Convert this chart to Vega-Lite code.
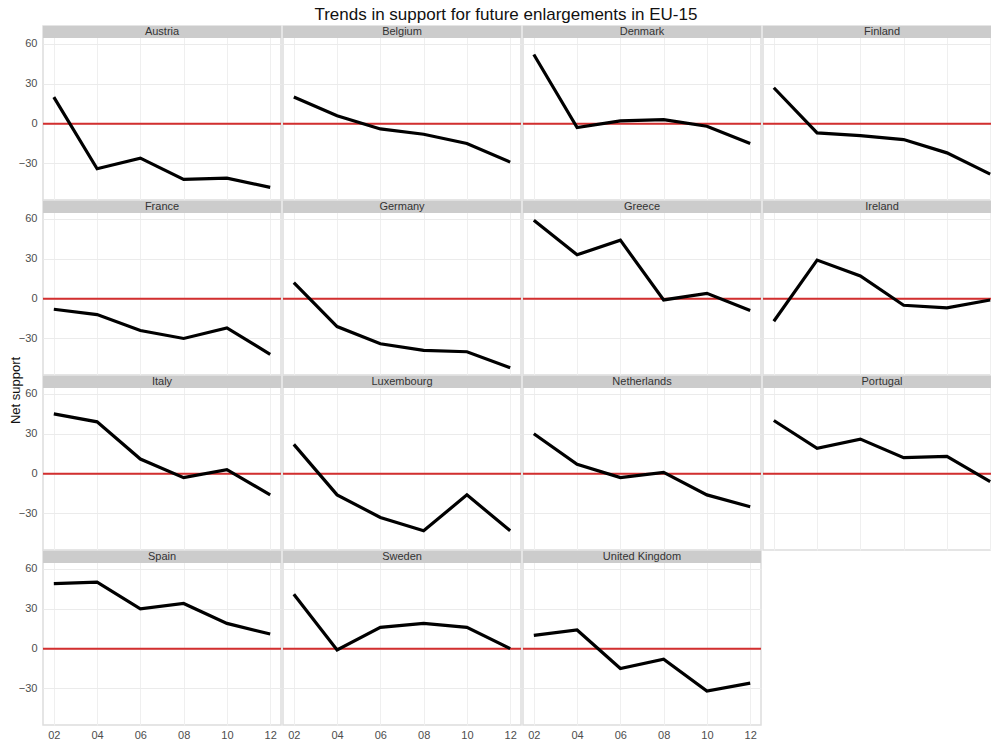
{
  "$schema": "https://vega.github.io/schema/vega-lite/v6.json",
  "padding": {"left": 9, "top": 6, "right": 0, "bottom": 0},
  "background": "white",
  "title": {"text": "Trends in support for future enlargements in EU-15", "fontSize": 17, "font": "Liberation Sans", "fontWeight": "normal", "color": "#111111", "offset": 1, "anchor": "middle"},
  "datasets": {"d": [
    {"country": "Austria", "year": 2002, "support": 20},
    {"country": "Austria", "year": 2004, "support": -34},
    {"country": "Austria", "year": 2006, "support": -26},
    {"country": "Austria", "year": 2008, "support": -42},
    {"country": "Austria", "year": 2010, "support": -41},
    {"country": "Austria", "year": 2012, "support": -48},
    {"country": "Belgium", "year": 2002, "support": 20},
    {"country": "Belgium", "year": 2004, "support": 6},
    {"country": "Belgium", "year": 2006, "support": -4},
    {"country": "Belgium", "year": 2008, "support": -8},
    {"country": "Belgium", "year": 2010, "support": -15},
    {"country": "Belgium", "year": 2012, "support": -29},
    {"country": "Denmark", "year": 2002, "support": 52},
    {"country": "Denmark", "year": 2004, "support": -3},
    {"country": "Denmark", "year": 2006, "support": 2},
    {"country": "Denmark", "year": 2008, "support": 3},
    {"country": "Denmark", "year": 2010, "support": -2},
    {"country": "Denmark", "year": 2012, "support": -15},
    {"country": "Finland", "year": 2002, "support": 27},
    {"country": "Finland", "year": 2004, "support": -7},
    {"country": "Finland", "year": 2006, "support": -9},
    {"country": "Finland", "year": 2008, "support": -12},
    {"country": "Finland", "year": 2010, "support": -22},
    {"country": "Finland", "year": 2012, "support": -38},
    {"country": "France", "year": 2002, "support": -8},
    {"country": "France", "year": 2004, "support": -12},
    {"country": "France", "year": 2006, "support": -24},
    {"country": "France", "year": 2008, "support": -30},
    {"country": "France", "year": 2010, "support": -22},
    {"country": "France", "year": 2012, "support": -42},
    {"country": "Germany", "year": 2002, "support": 12},
    {"country": "Germany", "year": 2004, "support": -21},
    {"country": "Germany", "year": 2006, "support": -34},
    {"country": "Germany", "year": 2008, "support": -39},
    {"country": "Germany", "year": 2010, "support": -40},
    {"country": "Germany", "year": 2012, "support": -52},
    {"country": "Greece", "year": 2002, "support": 59},
    {"country": "Greece", "year": 2004, "support": 33},
    {"country": "Greece", "year": 2006, "support": 44},
    {"country": "Greece", "year": 2008, "support": -1},
    {"country": "Greece", "year": 2010, "support": 4},
    {"country": "Greece", "year": 2012, "support": -9},
    {"country": "Ireland", "year": 2002, "support": -17},
    {"country": "Ireland", "year": 2004, "support": 29},
    {"country": "Ireland", "year": 2006, "support": 17},
    {"country": "Ireland", "year": 2008, "support": -5},
    {"country": "Ireland", "year": 2010, "support": -7},
    {"country": "Ireland", "year": 2012, "support": -1},
    {"country": "Italy", "year": 2002, "support": 45},
    {"country": "Italy", "year": 2004, "support": 39},
    {"country": "Italy", "year": 2006, "support": 11},
    {"country": "Italy", "year": 2008, "support": -3},
    {"country": "Italy", "year": 2010, "support": 3},
    {"country": "Italy", "year": 2012, "support": -16},
    {"country": "Luxembourg", "year": 2002, "support": 22},
    {"country": "Luxembourg", "year": 2004, "support": -16},
    {"country": "Luxembourg", "year": 2006, "support": -33},
    {"country": "Luxembourg", "year": 2008, "support": -43},
    {"country": "Luxembourg", "year": 2010, "support": -16},
    {"country": "Luxembourg", "year": 2012, "support": -43},
    {"country": "Netherlands", "year": 2002, "support": 30},
    {"country": "Netherlands", "year": 2004, "support": 7},
    {"country": "Netherlands", "year": 2006, "support": -3},
    {"country": "Netherlands", "year": 2008, "support": 1},
    {"country": "Netherlands", "year": 2010, "support": -16},
    {"country": "Netherlands", "year": 2012, "support": -25},
    {"country": "Portugal", "year": 2002, "support": 40},
    {"country": "Portugal", "year": 2004, "support": 19},
    {"country": "Portugal", "year": 2006, "support": 26},
    {"country": "Portugal", "year": 2008, "support": 12},
    {"country": "Portugal", "year": 2010, "support": 13},
    {"country": "Portugal", "year": 2012, "support": -6},
    {"country": "Spain", "year": 2002, "support": 49},
    {"country": "Spain", "year": 2004, "support": 50},
    {"country": "Spain", "year": 2006, "support": 30},
    {"country": "Spain", "year": 2008, "support": 34},
    {"country": "Spain", "year": 2010, "support": 19},
    {"country": "Spain", "year": 2012, "support": 11},
    {"country": "Sweden", "year": 2002, "support": 41},
    {"country": "Sweden", "year": 2004, "support": -1},
    {"country": "Sweden", "year": 2006, "support": 16},
    {"country": "Sweden", "year": 2008, "support": 19},
    {"country": "Sweden", "year": 2010, "support": 16},
    {"country": "Sweden", "year": 2012, "support": 0},
    {"country": "United Kingdom", "year": 2002, "support": 10},
    {"country": "United Kingdom", "year": 2004, "support": 14},
    {"country": "United Kingdom", "year": 2006, "support": -15},
    {"country": "United Kingdom", "year": 2008, "support": -8},
    {"country": "United Kingdom", "year": 2010, "support": -32},
    {"country": "United Kingdom", "year": 2012, "support": -26}
  ]},
  "spacing": -8,
  "hconcat": [
    {
      "width": 1,
      "height": 699,
      "view": {"stroke": null},
      "data": {"values": [{"v": 0}]},
      "mark": {"type": "point", "opacity": 0},
      "encoding": {
        "y": {"field": "v", "type": "quantitative",
          "axis": {"title": "Net support", "titleY": 364, "labels": false, "ticks": false, "domain": false, "grid": false,
            "titleFont": "Liberation Sans", "titleFontSize": 13, "titleFontWeight": "normal", "titleColor": "#111111", "titlePadding": 0}}
      }
    },
    {
      "spacing": -1,
      "vconcat": [
        {
          "data": {"name": "d"},
          "transform": [{"filter": {"field": "country", "oneOf": ["Austria", "Belgium", "Denmark", "Finland"]}}],
          "facet": {"column": {"field": "country", "type": "nominal", "title": null, "header": {"labels": false, "title": null}}},
          "spacing": -4,
          "spec": {
            "width": 238, "height": 174,
            "layer": [
              {"transform": [{"filter": "datum.year == 2002"}], "mark": {"type": "rect", "color": "#cccccc"},
               "encoding": {"x": {"datum": 2001.5, "type": "quantitative"}, "x2": {"datum": 2012.5}, "y": {"datum": 64.5, "type": "quantitative"}, "y2": {"datum": 73.5}}},
              {"transform": [{"filter": "datum.year == 2002"}], "mark": {"type": "text", "font": "Liberation Sans", "fontSize": 11, "color": "#333333", "baseline": "middle"},
               "encoding": {"x": {"datum": 2007, "type": "quantitative"}, "y": {"datum": 69, "type": "quantitative"}, "text": {"field": "country"}}},
              {"transform": [{"filter": "datum.year == 2002"}], "mark": {"type": "rule", "color": "#d32f2f", "strokeWidth": 2},
               "encoding": {"y": {"datum": 0, "type": "quantitative"}}},
              {"mark": {"type": "line", "color": "black", "strokeWidth": 3.2},
               "encoding": {
                 "x": {"field": "year", "type": "quantitative", "scale": {"domain": [2001.5, 2012.5], "nice": false, "zero": false},
                   "axis": {"title": null, "values": [2002, 2003, 2004, 2005, 2006, 2007, 2008, 2009, 2010, 2011, 2012], "labels": false, "ticks": false, "domain": false, "grid": true, "gridColor": "#efefef"}},
                 "y": {"field": "support", "type": "quantitative", "scale": {"domain": [-57.5, 73.5], "nice": false, "zero": false},
                   "axis": {"title": null, "values": [-30, 0, 30, 60], "labelOverlap": false, "ticks": false, "domain": false, "grid": true, "gridColor": "#ebebeb", "labelFont": "Liberation Sans", "labelFontSize": 11, "labelColor": "#4d4d4d", "labelPadding": 4}}
               }}
            ]
          }
        },
        {
          "data": {"name": "d"},
          "transform": [{"filter": {"field": "country", "oneOf": ["France", "Germany", "Greece", "Ireland"]}}],
          "facet": {"column": {"field": "country", "type": "nominal", "title": null, "header": {"labels": false, "title": null}}},
          "spacing": -4,
          "spec": {
            "width": 238, "height": 174,
            "layer": [
              {"transform": [{"filter": "datum.year == 2002"}], "mark": {"type": "rect", "color": "#cccccc"},
               "encoding": {"x": {"datum": 2001.5, "type": "quantitative"}, "x2": {"datum": 2012.5}, "y": {"datum": 64.5, "type": "quantitative"}, "y2": {"datum": 73.5}}},
              {"transform": [{"filter": "datum.year == 2002"}], "mark": {"type": "text", "font": "Liberation Sans", "fontSize": 11, "color": "#333333", "baseline": "middle"},
               "encoding": {"x": {"datum": 2007, "type": "quantitative"}, "y": {"datum": 69, "type": "quantitative"}, "text": {"field": "country"}}},
              {"transform": [{"filter": "datum.year == 2002"}], "mark": {"type": "rule", "color": "#d32f2f", "strokeWidth": 2},
               "encoding": {"y": {"datum": 0, "type": "quantitative"}}},
              {"mark": {"type": "line", "color": "black", "strokeWidth": 3.2},
               "encoding": {
                 "x": {"field": "year", "type": "quantitative", "scale": {"domain": [2001.5, 2012.5], "nice": false, "zero": false},
                   "axis": {"title": null, "values": [2002, 2003, 2004, 2005, 2006, 2007, 2008, 2009, 2010, 2011, 2012], "labels": false, "ticks": false, "domain": false, "grid": true, "gridColor": "#efefef"}},
                 "y": {"field": "support", "type": "quantitative", "scale": {"domain": [-57.5, 73.5], "nice": false, "zero": false},
                   "axis": {"title": null, "values": [-30, 0, 30, 60], "labelOverlap": false, "ticks": false, "domain": false, "grid": true, "gridColor": "#ebebeb", "labelFont": "Liberation Sans", "labelFontSize": 11, "labelColor": "#4d4d4d", "labelPadding": 4}}
               }}
            ]
          }
        },
        {
          "data": {"name": "d"},
          "transform": [{"filter": {"field": "country", "oneOf": ["Italy", "Luxembourg", "Netherlands", "Portugal"]}}],
          "facet": {"column": {"field": "country", "type": "nominal", "title": null, "header": {"labels": false, "title": null}}},
          "spacing": -4,
          "spec": {
            "width": 238, "height": 174,
            "layer": [
              {"transform": [{"filter": "datum.year == 2002"}], "mark": {"type": "rect", "color": "#cccccc"},
               "encoding": {"x": {"datum": 2001.5, "type": "quantitative"}, "x2": {"datum": 2012.5}, "y": {"datum": 64.5, "type": "quantitative"}, "y2": {"datum": 73.5}}},
              {"transform": [{"filter": "datum.year == 2002"}], "mark": {"type": "text", "font": "Liberation Sans", "fontSize": 11, "color": "#333333", "baseline": "middle"},
               "encoding": {"x": {"datum": 2007, "type": "quantitative"}, "y": {"datum": 69, "type": "quantitative"}, "text": {"field": "country"}}},
              {"transform": [{"filter": "datum.year == 2002"}], "mark": {"type": "rule", "color": "#d32f2f", "strokeWidth": 2},
               "encoding": {"y": {"datum": 0, "type": "quantitative"}}},
              {"mark": {"type": "line", "color": "black", "strokeWidth": 3.2},
               "encoding": {
                 "x": {"field": "year", "type": "quantitative", "scale": {"domain": [2001.5, 2012.5], "nice": false, "zero": false},
                   "axis": {"title": null, "values": [2002, 2003, 2004, 2005, 2006, 2007, 2008, 2009, 2010, 2011, 2012], "labels": false, "ticks": false, "domain": false, "grid": true, "gridColor": "#efefef"}},
                 "y": {"field": "support", "type": "quantitative", "scale": {"domain": [-57.5, 73.5], "nice": false, "zero": false},
                   "axis": {"title": null, "values": [-30, 0, 30, 60], "labelOverlap": false, "ticks": false, "domain": false, "grid": true, "gridColor": "#ebebeb", "labelFont": "Liberation Sans", "labelFontSize": 11, "labelColor": "#4d4d4d", "labelPadding": 4}}
               }}
            ]
          }
        },
        {
          "data": {"name": "d"},
          "transform": [{"filter": {"field": "country", "oneOf": ["Spain", "Sweden", "United Kingdom"]}}],
          "facet": {"column": {"field": "country", "type": "nominal", "title": null, "header": {"labels": false, "title": null}}},
          "spacing": -4,
          "spec": {
            "width": 238, "height": 174,
            "layer": [
              {"transform": [{"filter": "datum.year == 2002"}], "mark": {"type": "rect", "color": "#cccccc"},
               "encoding": {"x": {"datum": 2001.5, "type": "quantitative"}, "x2": {"datum": 2012.5}, "y": {"datum": 64.5, "type": "quantitative"}, "y2": {"datum": 73.5}}},
              {"transform": [{"filter": "datum.year == 2002"}], "mark": {"type": "text", "font": "Liberation Sans", "fontSize": 11, "color": "#333333", "baseline": "middle"},
               "encoding": {"x": {"datum": 2007, "type": "quantitative"}, "y": {"datum": 69, "type": "quantitative"}, "text": {"field": "country"}}},
              {"transform": [{"filter": "datum.year == 2002"}], "mark": {"type": "rule", "color": "#d32f2f", "strokeWidth": 2},
               "encoding": {"y": {"datum": 0, "type": "quantitative"}}},
              {"mark": {"type": "line", "color": "black", "strokeWidth": 3.2},
               "encoding": {
                 "x": {"field": "year", "type": "quantitative", "scale": {"domain": [2001.5, 2012.5], "nice": false, "zero": false},
                   "axis": {"title": null, "values": [2002, 2003, 2004, 2005, 2006, 2007, 2008, 2009, 2010, 2011, 2012], "labelExpr": "datum.value % 2 == 0 ? substring(datum.label, 3) : ''", "labelOverlap": false, "ticks": false, "domain": false, "grid": true, "gridColor": "#efefef", "labelFont": "Liberation Sans", "labelFontSize": 11, "labelColor": "#4d4d4d", "labelPadding": 3, "labelFlush": false}},
                 "y": {"field": "support", "type": "quantitative", "scale": {"domain": [-57.5, 73.5], "nice": false, "zero": false},
                   "axis": {"title": null, "values": [-30, 0, 30, 60], "labelOverlap": false, "ticks": false, "domain": false, "grid": true, "gridColor": "#ebebeb", "labelFont": "Liberation Sans", "labelFontSize": 11, "labelColor": "#4d4d4d", "labelPadding": 4}}
               }}
            ]
          }
        }
      ]
    }
  ],
  "config": {
    "view": {"stroke": "#dddddd", "strokeWidth": 1.5},
    "header": {"labels": false, "title": null}
  }
}
